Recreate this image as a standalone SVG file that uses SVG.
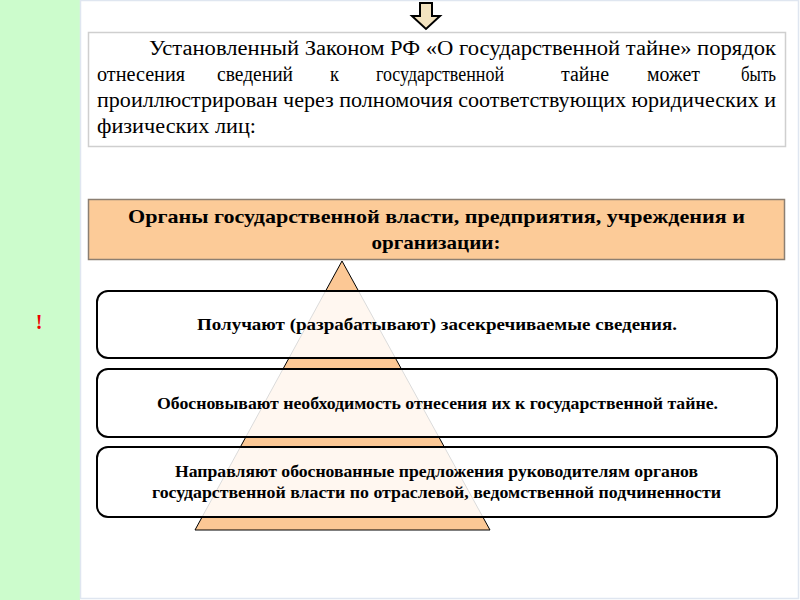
<svg xmlns="http://www.w3.org/2000/svg" width="800" height="600" viewBox="0 0 800 600">
<style>
.serif{font-family:"Liberation Serif","Times New Roman",serif;fill:#000}
.b{font-weight:bold}
.box{fill:#fff;fill-opacity:0.86;stroke:#000;stroke-width:2}
</style>
<rect x="0" y="0" width="800" height="600" fill="#fff"/>
<rect id="strip" x="0" y="0" width="80" height="600" fill="#ccfccc"/>
<rect x="80.5" y="0.5" width="718" height="598" fill="none" stroke="#dfe6f0" stroke-width="1.5"/>
<text x="39" y="329" class="serif b" font-size="20" style="fill:#f00000" text-anchor="middle">!</text>
<g id="arrow">
<path d="M420,3 H432 V16 H440 L426,29 L412,16 H420 Z" fill="#f3e3c0" stroke="#000" stroke-width="2" stroke-linejoin="miter"/>
</g>
<g id="intro">
<rect x="88.5" y="32.5" width="697" height="114" fill="#fff" stroke="#cfcfcf" stroke-width="1.5"/>
<g class="serif" font-size="20">
<text x="149" y="55" textLength="627" lengthAdjust="spacingAndGlyphs">Установленный Законом РФ «О государственной тайне» порядок</text>
<text x="97" y="81" textLength="88" lengthAdjust="spacingAndGlyphs">отнесения</text>
<text x="217" y="81" textLength="76" lengthAdjust="spacingAndGlyphs">сведений</text>
<text x="330" y="81" textLength="9" lengthAdjust="spacingAndGlyphs">к</text>
<text x="376" y="81" textLength="128" lengthAdjust="spacingAndGlyphs">государственной</text>
<text x="561" y="81" textLength="48" lengthAdjust="spacingAndGlyphs">тайне</text>
<text x="647" y="81" textLength="53" lengthAdjust="spacingAndGlyphs">может</text>
<text x="741" y="81" textLength="35" lengthAdjust="spacingAndGlyphs">быть</text>
<text x="97" y="107" textLength="679" lengthAdjust="spacingAndGlyphs">проиллюстрирован через полномочия соответствующих юридических и</text>
<text x="97" y="133" textLength="159" lengthAdjust="spacingAndGlyphs">физических лиц:</text>
</g>
</g>
<g id="header">
<rect x="88.5" y="199.5" width="696" height="60" fill="#fccb98" stroke="#8c7f72" stroke-width="1.5"/>
<text class="serif b" font-size="19" x="436.5" y="223" text-anchor="middle" textLength="617" lengthAdjust="spacingAndGlyphs">Органы государственной власти, предприятия, учреждения и</text>
<text class="serif b" font-size="19" x="436" y="249" text-anchor="middle" textLength="129" lengthAdjust="spacingAndGlyphs">организации:</text>
</g>
<g id="pyramid">
<path d="M342,261 L490,530 L195,530 Z" fill="#fcc895" stroke="#000" stroke-width="1"/>
</g>
<g id="step1">
<rect class="box" x="97" y="291" width="680" height="67" rx="11"/>
<text class="serif b" font-size="17.5" x="437" y="330" text-anchor="middle" textLength="480" lengthAdjust="spacingAndGlyphs">Получают (разрабатывают) засекречиваемые сведения.</text>
</g>
<g id="step2">
<rect class="box" x="97" y="369" width="680" height="68" rx="11"/>
<text class="serif b" font-size="16.5" x="437.5" y="409" text-anchor="middle" textLength="561" lengthAdjust="spacingAndGlyphs">Обосновывают необходимость отнесения их к государственной тайне.</text>
</g>
<g id="step3">
<rect class="box" x="97" y="447" width="680" height="70" rx="11"/>
<text class="serif b" font-size="16.5" x="436.5" y="477" text-anchor="middle" textLength="523" lengthAdjust="spacingAndGlyphs">Направляют обоснованные предложения руководителям органов</text>
<text class="serif b" font-size="16.5" x="436.5" y="498" text-anchor="middle" textLength="569" lengthAdjust="spacingAndGlyphs">государственной власти по отраслевой, ведомственной подчиненности</text>
</g>
</svg>
